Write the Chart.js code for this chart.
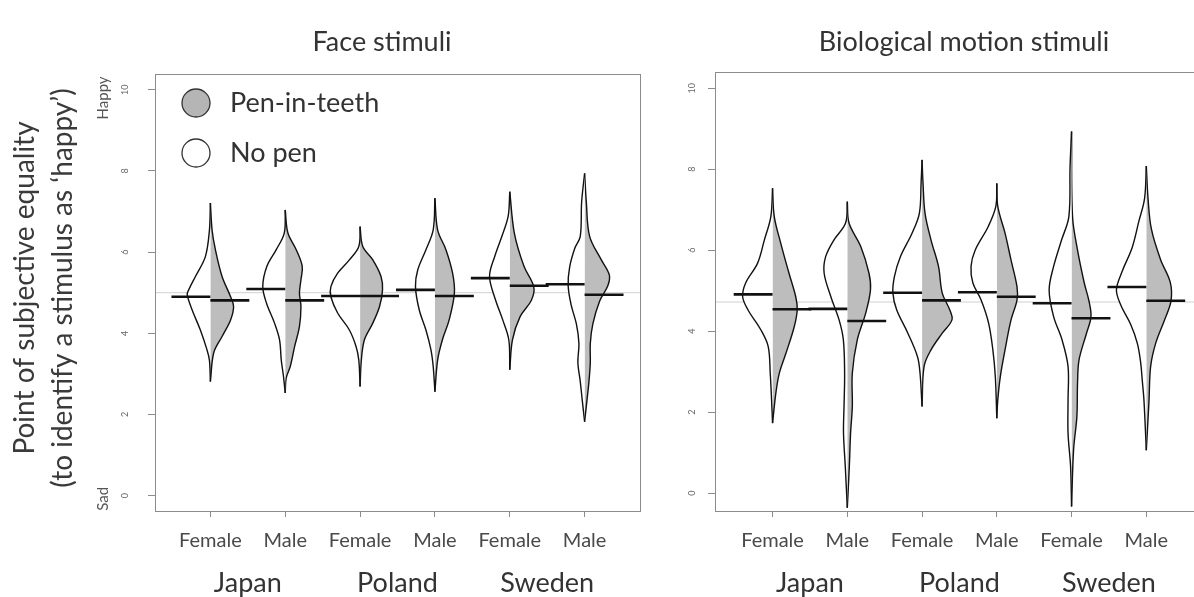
<!DOCTYPE html>
<html>
<head>
<meta charset="utf-8">
<script src="https://cdn.jsdelivr.net/npm/chart.js@4.4.1/dist/chart.umd.min.js"></script>
<style>
  html, body { margin: 0; padding: 0; background: #fff; overflow: hidden; }
  #wrap { position: relative; width: 1194px; height: 597px; overflow: hidden; }
  canvas { position: absolute; top: 0; }
  #face { left: 0; }
  #bio { left: 660px; }
</style>
</head>
<body>
<div id="wrap">
  <canvas id="face" width="660" height="597"></canvas>
  <canvas id="bio" width="560" height="597"></canvas>
</div>
<script>
// categories
const genders = ["Female", "Male", "Female", "Male", "Female", "Male"];
const countries = ["Japan", "Poland", "Sweden"];
const beanPositions = [1, 2, 3, 4, 5, 6];
const countryPositions = [1.5, 3.5, 5.5];
const yTickValues = [0, 2, 4, 6, 8, 10];

// group means (mean lines)
const faceMeanNoPen = [4.90, 5.09, 4.92, 5.07, 5.36, 5.21];
const faceMeanPen = [4.81, 4.81, 4.92, 4.92, 5.17, 4.95];
const bioMeanNoPen = [4.91, 4.55, 4.95, 4.96, 4.69, 5.09];
const bioMeanPen = [4.54, 4.25, 4.76, 4.85, 4.32, 4.75];
const faceGrandMean = 5.0;
const bioGrandMean = 4.72;

// density outlines: [value, half width]
const faceNoPen = [
  [[7.21,0],[6.54,0.013],[5.89,0.067],[5.40,0.20],[5.07,0.29],[4.95,0.31],[4.58,0.245],[4.08,0.134],[3.59,0.045],[3.34,0.013],[2.81,0]],
  [[7.04,0],[6.47,0.013],[6.06,0.12],[5.65,0.245],[5.15,0.30],[4.74,0.25],[4.25,0.143],[3.84,0.076],[3.34,0.053],[2.93,0.023],[2.53,0]],
  [[6.63,0],[6.14,0.017],[5.81,0.143],[5.48,0.30],[5.15,0.39],[4.90,0.39],[4.50,0.30],[4.08,0.143],[3.67,0.053],[3.34,0.017],[2.69,0]],
  [[7.33,0],[6.55,0.023],[6.06,0.12],[5.56,0.23],[5.15,0.26],[4.58,0.21],[4.08,0.12],[3.59,0.053],[3.18,0.023],[2.56,0]],
  [[7.49,0],[6.90,0.02],[6.47,0.09],[5.90,0.20],[5.40,0.27],[4.82,0.19],[4.33,0.094],[3.84,0.013],[3.10,0]],
  [[7.94,0],[7.23,0.04],[6.39,0.058],[6.10,0.13],[5.63,0.20],[5.17,0.22],[4.70,0.18],[4.23,0.11],[3.75,0.076],[3.28,0.09],[2.81,0.058],[2.34,0.031],[1.82,0]]
];
const facePen = [
  [[7.21,0],[6.54,0.023],[6.06,0.067],[5.40,0.156],[4.90,0.27],[4.66,0.31],[4.33,0.27],[3.92,0.156],[3.52,0.045],[2.81,0]],
  [[7.04,0],[6.47,0.036],[6.06,0.147],[5.65,0.227],[5.32,0.21],[4.99,0.19],[4.66,0.21],[4.17,0.19],[3.67,0.125],[3.18,0.067],[2.90,0.013],[2.53,0]],
  [[6.63,0],[6.14,0.036],[5.81,0.17],[5.40,0.28],[5.07,0.30],[4.66,0.26],[4.25,0.17],[3.84,0.058],[3.34,0.017],[2.69,0]],
  [[7.33,0],[6.55,0.036],[6.06,0.147],[5.48,0.236],[4.99,0.26],[4.33,0.19],[3.84,0.10],[3.34,0.036],[2.56,0]],
  [[7.49,0],[6.47,0.061],[5.65,0.19],[5.15,0.32],[4.82,0.29],[4.41,0.138],[3.84,0.036],[3.10,0]],
  [[7.94,0],[7.23,0.023],[6.39,0.067],[5.82,0.22],[5.44,0.33],[5.17,0.31],[4.79,0.20],[4.23,0.11],[3.75,0.076],[3.28,0.076],[2.81,0.058],[2.34,0.031],[1.82,0]]
];
const bioNoPen = [
  [[7.53,0],[6.83,0.023],[6.25,0.11],[5.68,0.20],[5.19,0.36],[4.85,0.40],[4.53,0.33],[4.03,0.156],[3.62,0.058],[2.96,0.031],[2.30,0.013],[1.73,0]],
  [[7.20,0],[6.67,0.023],[6.25,0.18],[5.84,0.29],[5.43,0.31],[4.85,0.22],[4.28,0.11],[3.79,0.053],[2.96,0.036],[2.14,0.044],[1.49,0.051],[0.66,0.027],[-0.36,0]],
  [[8.23,0],[7.65,0.013],[6.91,0.036],[6.42,0.134],[5.84,0.29],[5.35,0.37],[4.94,0.39],[4.53,0.34],[3.95,0.19],[3.37,0.061],[2.96,0.027],[2.14,0]],
  [[7.65,0],[7.08,0.013],[6.58,0.116],[6.00,0.29],[5.60,0.345],[5.19,0.32],[4.77,0.21],[4.20,0.11],[3.54,0.053],[2.88,0.02],[1.85,0]],
  [[8.93,0],[8.06,0.02],[6.83,0.036],[6.25,0.134],[5.60,0.24],[5.02,0.30],[4.36,0.24],[3.79,0.128],[3.13,0.047],[2.30,0.047],[1.48,0.047],[0.66,0.013],[-0.33,0]],
  [[8.08,0],[7.28,0.023],[6.71,0.10],[6.06,0.19],[5.49,0.32],[5.02,0.40],[4.64,0.34],[4.17,0.21],[3.70,0.12],[3.23,0.076],[2.76,0.053],[2.28,0.031],[1.06,0]]
];
const bioPen = [
  [[7.53,0],[6.83,0.023],[6.17,0.11],[5.43,0.22],[4.85,0.31],[4.53,0.33],[4.11,0.29],[3.46,0.18],[2.96,0.09],[2.47,0.044],[1.73,0]],
  [[7.20,0],[6.67,0.023],[6.09,0.18],[5.43,0.29],[5.02,0.31],[4.44,0.245],[3.79,0.134],[2.96,0.067],[2.14,0.067],[1.49,0.044],[0.66,0.027],[-0.36,0]],
  [[8.23,0],[7.65,0.013],[6.91,0.04],[6.25,0.12],[5.60,0.22],[4.94,0.27],[4.53,0.37],[4.28,0.40],[3.95,0.27],[3.54,0.12],[3.13,0.027],[2.14,0]],
  [[7.65,0],[7.08,0.013],[6.42,0.11],[5.76,0.19],[5.10,0.27],[4.77,0.27],[4.28,0.19],[3.54,0.11],[2.88,0.047],[2.30,0.013],[1.85,0]],
  [[8.93,0],[6.83,0.013],[6.00,0.08],[5.19,0.17],[4.77,0.23],[4.36,0.26],[3.95,0.20],[3.29,0.10],[2.72,0.08],[1.89,0.071],[1.07,0.027],[-0.33,0]],
  [[8.08,0],[7.28,0.023],[6.53,0.067],[5.77,0.19],[5.21,0.32],[4.74,0.33],[4.26,0.24],[3.70,0.125],[3.13,0.058],[2.28,0.036],[1.06,0]]
];

const GREY = "#bdbdbd";
const INK = "#111";
const AXIS = "#8c8c8c";
const MEAN_LEN = 0.52;

function beanDatasets(noPen, pen, meanNoPen, meanPen, grand, xr) {
  const sets = [];
  beanPositions.forEach((c, i) => {
    sets.push({ data: noPen[i].map(([v, w]) => ({ x: c - w, y: v })), showLine: true,
      fill: "shape", backgroundColor: "#ffffff", borderColor: INK, borderWidth: 1.4, tension: 0.35, order: 1 });
    sets.push({ data: pen[i].map(([v, w]) => ({ x: c + w, y: v })), showLine: true,
      fill: "shape", backgroundColor: GREY, borderColor: INK, borderWidth: 1.4, tension: 0.35, order: 1 });
    sets.push({ data: [{ x: c - MEAN_LEN, y: meanNoPen[i] }, { x: c, y: meanNoPen[i] }], showLine: true,
      fill: false, borderColor: "#111", borderWidth: 2.6, order: 0 });
    sets.push({ data: [{ x: c, y: meanPen[i] }, { x: c + MEAN_LEN, y: meanPen[i] }], showLine: true,
      fill: false, borderColor: "#111", borderWidth: 2.6, order: 0 });
  });
  sets.push({ data: [{ x: xr[0], y: grand }, { x: xr[1], y: grand }], showLine: true,
    fill: false, borderColor: "#d0d0d0", borderWidth: 1, order: 2 });
  return sets;
}

const decor = {
  id: "decor",
  afterDraw(chart, args, o) {
    const { ctx, chartArea: a } = chart;
    ctx.save();
    ctx.strokeStyle = AXIS;
    ctx.lineWidth = 1;
    ctx.strokeRect(Math.round(a.left) + 0.5, Math.round(a.top) + 0.5, Math.round(a.width), Math.round(a.height));
    ctx.fillStyle = "#333";
    ctx.textAlign = "center";
    ctx.textBaseline = "middle";
    ctx.font = "27px Lato";
    ctx.fillText(o.title, o.titleX, 42);
    if (o.yTitle) {
      ctx.save();
      ctx.translate(0, 288);
      ctx.rotate(-Math.PI / 2);
      ctx.font = "28px Lato";
      ctx.fillStyle = "#3a3a3a";
      ctx.fillText(o.yTitle[0], 0, 25);
      ctx.fillText(o.yTitle[1], 0, 63);
      ctx.restore();
      const y = chart.scales.y;
      ctx.font = "15px Lato";
      ctx.fillStyle = "#555";
      [["Happy", 9.8], ["Sad", -0.08]].forEach(([t, v]) => {
        ctx.save();
        ctx.translate(103, y.getPixelForValue(v));
        ctx.rotate(-Math.PI / 2);
        ctx.fillText(t, 0, 0);
        ctx.restore();
      });
    }
    if (o.legend) {
      ctx.font = "27px Lato";
      ctx.textAlign = "left";
      o.legend.forEach(([label, fill], i) => {
        const cy = 103 + i * 50;
        ctx.beginPath();
        ctx.arc(196, cy, 14, 0, Math.PI * 2);
        ctx.fillStyle = fill;
        ctx.fill();
        ctx.lineWidth = 1.3;
        ctx.strokeStyle = "#333";
        ctx.stroke();
        ctx.fillStyle = "#333";
        ctx.fillText(label, 230, cy);
      });
    }
    ctx.restore();
  }
};

function makeChart(id, c) {
  return new Chart(document.getElementById(id), {
    type: "scatter",
    data: { datasets: beanDatasets(c.noPen, c.pen, c.meanNoPen, c.meanPen, c.grand, c.xr) },
    options: {
      responsive: false,
      animation: false,
      events: [],
      layout: { padding: c.padding },
      elements: { point: { radius: 0 } },
      plugins: {
        legend: { display: false },
        tooltip: { enabled: false },
        decor: c.decor
      },
      scales: {
        x: {
          type: "linear", position: "bottom", weight: 0, min: c.xr[0], max: c.xr[1],
          afterBuildTicks: s => { s.ticks = beanPositions.map(v => ({ value: v })); },
          afterFit: s => { s.height = 44; },
          ticks: { callback: (v, i) => genders[i], autoSkip: false, maxRotation: 0, padding: 12,
            color: "#4a4a4a", font: { family: "Lato", size: 20 } },
          grid: { drawOnChartArea: false, tickLength: 6, color: AXIS },
          border: { color: AXIS }
        },
        x2: {
          type: "linear", position: "bottom", weight: 1, min: c.xr[0], max: c.xr[1],
          afterBuildTicks: s => { s.ticks = countryPositions.map(v => ({ value: v })); },
          afterFit: s => { s.height = 42; },
          ticks: { callback: (v, i) => countries[i], autoSkip: false, maxRotation: 0, padding: 4,
            color: "#333", font: { family: "Lato", size: 27 } },
          grid: { display: false },
          border: { display: false }
        },
        y: {
          type: "linear", min: c.yr[0], max: c.yr[1],
          afterBuildTicks: s => { s.ticks = yTickValues.map(v => ({ value: v })); },
          afterFit: s => { s.width = c.yWidth; },
          ticks: { minRotation: 90, maxRotation: 90, crossAlign: "center", padding: c.tickPad,
            color: "#666", font: { family: "Lato", size: 9 } },
          grid: { drawOnChartArea: false, tickLength: 7, color: AXIS },
          border: { color: AXIS }
        }
      }
    },
    plugins: [decor]
  });
}

makeChart("face", {
  noPen: faceNoPen, pen: facePen, meanNoPen: faceMeanNoPen, meanPen: faceMeanPen, grand: faceGrandMean,
  xr: [0.26, 6.74], yr: [-0.38, 10.39], yWidth: 155, tickPad: 18,
  padding: { left: 0, top: 74, right: 20, bottom: 0 },
  decor: {
    title: "Face stimuli", titleX: 382,
    yTitle: ["Point of subjective equality", "(to identify a stimulus as \u2018happy\u2019)"],
    legend: [["Pen-in-teeth", "#b5b5b5"], ["No pen", "#ffffff"]]
  }
});

makeChart("bio", {
  noPen: bioNoPen, pen: bioPen, meanNoPen: bioMeanNoPen, meanPen: bioMeanPen, grand: bioGrandMean,
  xr: [0.23, 6.745], yr: [-0.44, 10.4], yWidth: 55, tickPad: 11,
  padding: { left: 0, top: 72, right: 18, bottom: 0 },
  decor: { title: "Biological motion stimuli", titleX: 304 }
});
</script>
</body>
</html>
